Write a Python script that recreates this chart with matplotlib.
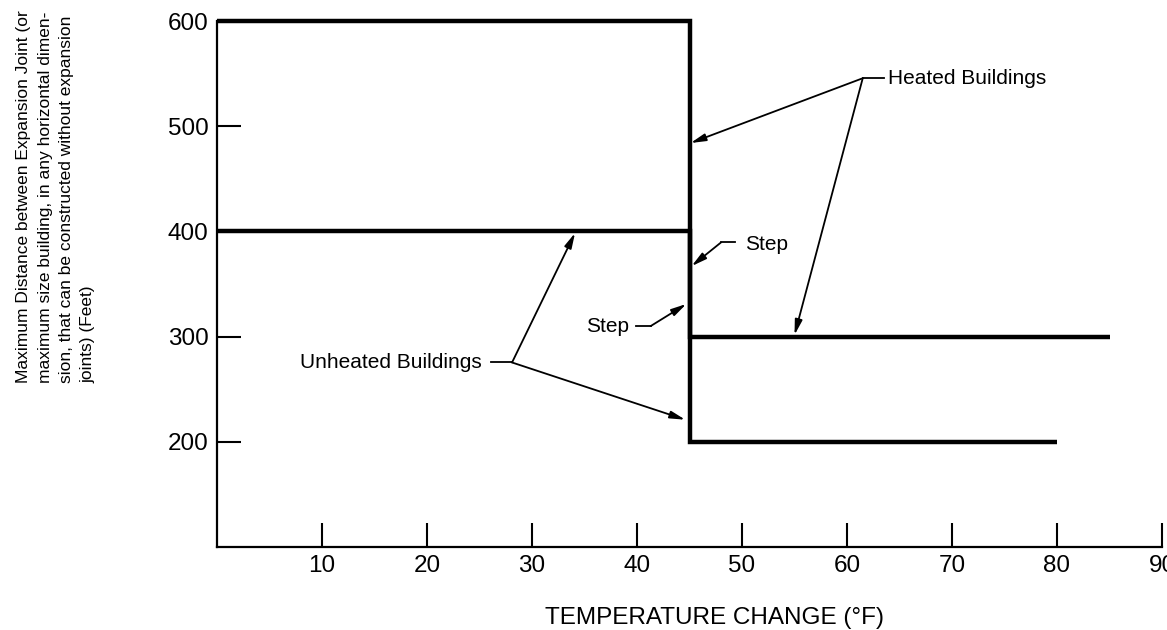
import matplotlib.pyplot as plt

# step curves (temperature change in F, max distance in ft)
heated_temp = [0, 45, 45, 85]
heated_dist = [600, 600, 300, 300]
unheated_temp = [0, 45, 45, 80]
unheated_dist = [400, 400, 200, 200]

x_ticks = [10, 20, 30, 40, 50, 60, 70, 80, 90]
y_ticks = [200, 300, 400, 500, 600]

ylabel_text = ("Maximum Distance between Expansion Joint (or\n"
               "maximum size building, in any horizontal dimen-\n"
               "sion, that can be constructed without expansion\n"
               "joints) (Feet)")


def main():
    plt.rcParams['font.family'] = ['Liberation Sans', 'DejaVu Sans']

    fig = plt.figure(figsize=(11.67, 6.30), dpi=100)
    ax = fig.add_axes([217 / 1167, 1 - 547 / 630, 945 / 1167, 526 / 630])

    line_kw = dict(color='black', lw=3.2, solid_joinstyle='miter',
                   solid_capstyle='butt', clip_on=False)
    ax.plot(heated_temp, heated_dist, **line_kw)
    ax.plot(unheated_temp, unheated_dist, **line_kw)

    ax.set_xlim(0, 90)
    ax.set_ylim(100, 600)
    ax.set_xticks(x_ticks)
    ax.set_yticks(y_ticks)
    ax.tick_params(direction='in', length=17, width=1.5, labelsize=17.5, pad=6)

    for side in ['top', 'right']:
        ax.spines[side].set_visible(False)
    for side in ['left', 'bottom']:
        ax.spines[side].set_linewidth(1.6)

    arrow = dict(arrowstyle='-|>,head_length=0.9,head_width=0.22', color='black',
                 lw=1.3, shrinkA=0, shrinkB=0)
    lead = dict(color='black', lw=1.3, clip_on=False)
    txt = dict(fontsize=15, va='center')

    # Heated Buildings
    ax.text(63.9, 545.6, "Heated Buildings", ha='left', **txt)
    ax.plot([61.5, 63.5], [545.6, 545.6], **lead)
    ax.annotate("", xy=(45.1, 484), xytext=(61.5, 545.6), arrowprops=arrow)
    ax.annotate("", xy=(55, 301.5), xytext=(61.5, 545.6), arrowprops=arrow)

    # Unheated Buildings
    ax.text(25.2, 275.4, "Unheated Buildings", ha='right', **txt)
    ax.plot([26.1, 28.1], [275.4, 275.4], **lead)
    ax.annotate("", xy=(34.1, 398.5), xytext=(28.1, 275.4), arrowprops=arrow)
    ax.annotate("", xy=(44.6, 221), xytext=(28.1, 275.4), arrowprops=arrow)

    # Step labels
    ax.text(50.3, 388, "Step", ha='left', **txt)
    ax.plot([48.0, 49.3], [389.5, 389.5], **lead)
    ax.annotate("", xy=(45.2, 367), xytext=(48.0, 389.5), arrowprops=arrow)

    ax.text(39.2, 310, "Step", ha='right', **txt)
    ax.plot([39.9, 41.3], [310, 310], **lead)
    ax.annotate("", xy=(44.7, 331), xytext=(41.3, 310), arrowprops=arrow)

    fig.text(714 / 1167, 1 - 618 / 630, "TEMPERATURE CHANGE (°F)",
             ha='center', va='center', fontsize=17.5)
    fig.text(56 / 1167, 1 - 383 / 630, ylabel_text, rotation=90,
             ha='center', va='bottom', multialignment='left', fontsize=12.5,
             linespacing=1.55)

    fig.savefig("out.png", dpi=100)


if __name__ == "__main__":
    main()
